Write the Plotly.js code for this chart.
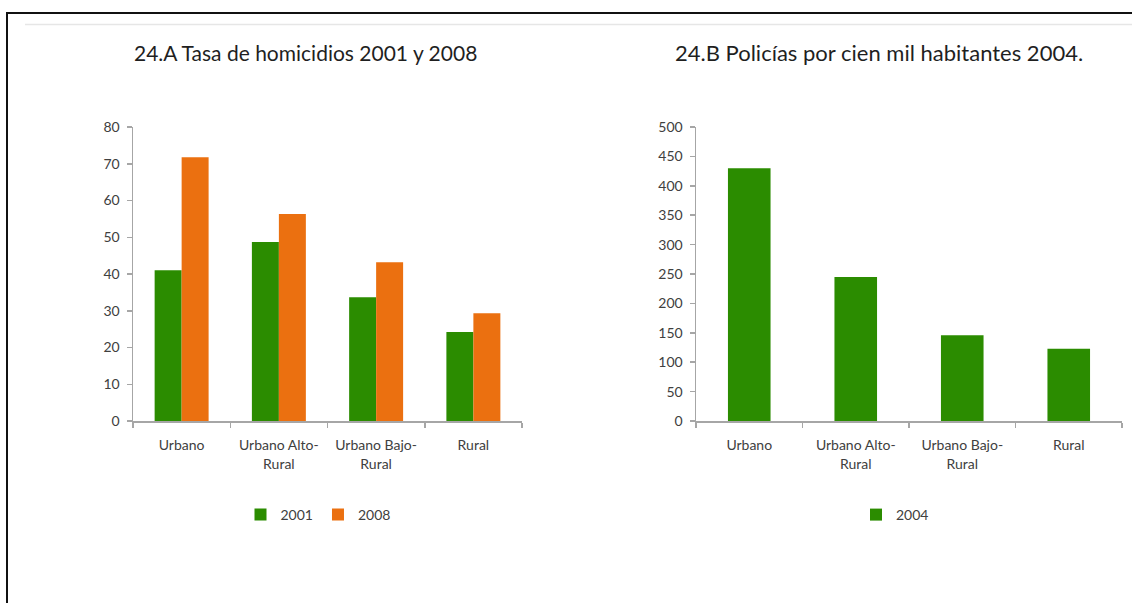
<!DOCTYPE html>
<html>
<head>
<meta charset="utf-8">
<script src="https://cdn.plot.ly/plotly-3.0.1.min.js"></script>
<style>
html,body{margin:0;padding:0;background:#fff;}
#chart{width:1132px;height:603px;}
</style>
</head>
<body>
<div id="chart"></div>
<script>
// Data
var categories = ["Urbano", "Urbano Alto-<br>Rural", "Urbano Bajo-<br>Rural", "Rural"];
var homicidios2001 = [41, 48.7, 33.7, 24.2];
var homicidios2008 = [71.8, 56.3, 43.2, 29.3];
var policias2004 = [430, 245, 146, 123];
var titleA = "24.A Tasa de homicidios 2001 y 2008";
var titleB = "24.B Policías por cien mil habitantes 2004.";

var GREEN = "#2b8c00";
var ORANGE = "#eb7010";
var W = 1132, H = 603;
function px(x){return x/W;}
function py(y){return 1 - y/H;}

var FONT = "Lato, 'Open Sans', sans-serif";

var traces = [
  {type:"bar", name:"2001", x:categories, y:homicidios2001, xaxis:"x", yaxis:"y",
   marker:{color:GREEN}, legend:"legend", hoverinfo:"none"},
  {type:"bar", name:"2008", x:categories, y:homicidios2008, xaxis:"x", yaxis:"y",
   marker:{color:ORANGE}, legend:"legend", hoverinfo:"none"},
  {type:"bar", name:"2004", x:categories, y:policias2004, xaxis:"x2", yaxis:"y2",
   marker:{color:GREEN}, width:0.4, legend:"legend2", hoverinfo:"none"}
];

var axisCommon = {
  showline:true, linecolor:"#a6a6a6", linewidth:1.5,
  ticks:"outside", ticklen:5, tickcolor:"#a6a6a6", tickwidth:1.5,
  showgrid:false, zeroline:false, fixedrange:true,
  tickfont:{family:FONT, size:14, color:"#404040"}
};

function xa(domain, anchor){
  return Object.assign({}, axisCommon, {
    domain:domain, anchor:anchor, type:"category", tickson:"boundaries",
    ticklabelstandoff:11
  });
}
function ya(domain, anchor, range, dtick){
  return Object.assign({}, axisCommon, {
    domain:domain, anchor:anchor, range:range, dtick:dtick, tick0:0,
    ticklabelstandoff:4
  });
}

var layout = {
  width:W, height:H,
  margin:{l:0,r:0,t:0,b:0},
  paper_bgcolor:"#ffffff", plot_bgcolor:"#ffffff",
  barmode:"group", bargap:0.445, bargroupgap:0,
  showlegend:true,
  font:{family:FONT, color:"#404040"},
  xaxis: xa([px(133), px(522)], "y"),
  yaxis: ya([py(421), py(127)], "x", [0,80], 10),
  xaxis2: xa([px(696), px(1122)], "y2"),
  yaxis2: ya([py(421), py(127)], "x2", [0,500], 50),
  legend:{orientation:"h", x:px(318), xanchor:"center", y:py(515), yanchor:"middle",
    font:{family:FONT, size:14, color:"#404040"}, bgcolor:"rgba(0,0,0,0)",
    itemwidth:30, tracegroupgap:0},
  legend2:{orientation:"h", x:px(895), xanchor:"center", y:py(515), yanchor:"middle",
    font:{family:FONT, size:14, color:"#404040"}, bgcolor:"rgba(0,0,0,0)",
    itemwidth:30},
  annotations:[
    {text:titleA, xref:"paper", yref:"paper", x:px(305), y:py(52), xanchor:"center", yanchor:"middle",
     showarrow:false, font:{family:FONT, size:21, color:"#1f1f1f"}},
    {text:titleB, xref:"paper", yref:"paper", x:px(879), y:py(52), xanchor:"center", yanchor:"middle",
     showarrow:false, font:{family:FONT, size:22, color:"#1f1f1f"}}
  ],
  shapes:[
    {type:"rect", xref:"paper", yref:"paper", x0:px(7), x1:px(1145), y0:py(13), y1:py(620),
     line:{color:"#111111", width:2}, fillcolor:"rgba(0,0,0,0)", layer:"above"},
    {type:"line", xref:"paper", yref:"paper", x0:px(25), x1:px(1132), y0:py(24.5), y1:py(24.5),
     line:{color:"#e6e6e6", width:1.5}}
  ]
};

Plotly.newPlot("chart", traces, layout, {displayModeBar:false, staticPlot:true});
</script>
</body>
</html>
